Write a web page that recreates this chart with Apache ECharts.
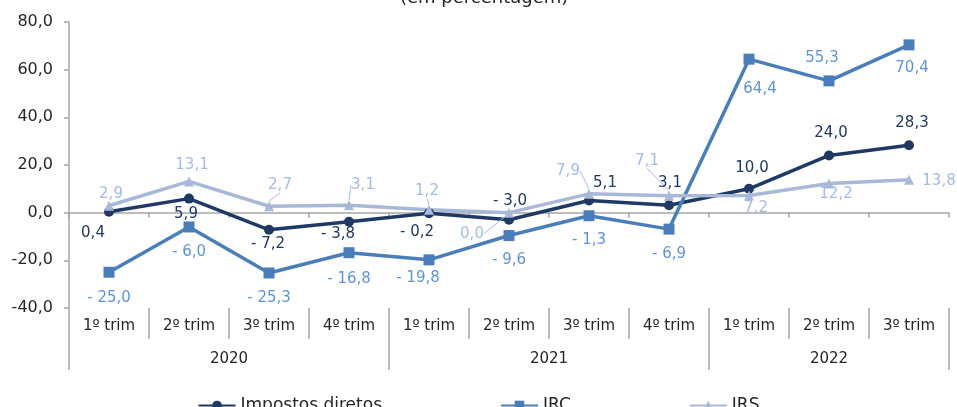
<!DOCTYPE html>
<html>
<head>
<meta charset="utf-8">
<script src="https://cdn.jsdelivr.net/npm/echarts@6/dist/echarts.min.js"></script>
<style>
  html, body { margin: 0; padding: 0; background: #ffffff; }
  #chart { width: 957px; height: 407px; }
</style>
</head>
<body>
<div id="chart"></div>
<script>
// Quarterly categories and the years they belong to
const quarters = ['1º trim', '2º trim', '3º trim', '4º trim',
                  '1º trim', '2º trim', '3º trim', '4º trim',
                  '1º trim', '2º trim', '3º trim'];
const years = ['2020', '2021', '2022'];
const quartersPerYear = [4, 4, 3];

// Year-on-year change (%)
const impostosDiretos = [0.4, 5.9, -7.2, -3.8, -0.2, -3.0, 5.1, 3.1, 10.0, 24.0, 28.3];
const irc = [-25.0, -6.0, -25.3, -16.8, -19.8, -9.6, -1.3, -6.9, 64.4, 55.3, 70.4];
const irs = [2.9, 13.1, 2.7, 3.1, 1.2, 0.0, 7.9, 7.1, 7.2, 12.2, 13.8];

// Value axis range
const yMin = -40, yMax = 80, yStep = 20;

// Label placement (pixel offsets from each point) and leader lines
const navyLabelOffsets = [[-16, 21], [-3, 16], [-1, 14], [-11, 12], [-12, 19], [1, -19], [16, -17], [1, -22], [3, -21], [2, -22], [3, -22]];
const ircLabelOffsets = [[0, 26], [0, 25], [0, 25], [0, 26], [-11, 18], [0, 25], [0, 24], [0, 25], [11, 30], [-7, -23], [3, 23]];
const irsLabelOffsets = [[2, -12], [3, -16], [11, -21], [14, -20], [-2, -19], [-37, 21], [-21, -23], [-22, -35], [7, 13], [7, 11], [30, 1]];
const irsLeaderLines = [2, 3, 4, 5, 6, 7];

const FONT = 'DejaVu Sans';
const AXIS_GRAY = '#A6A6A6';
const TEXT = '#262626';

// Year group boundaries and centres on a 0..n scale
const yearBounds = [0];
quartersPerYear.forEach(n => yearBounds.push(yearBounds[yearBounds.length - 1] + n));
const yearCentres = years.map((_, i) => (yearBounds[i] + yearBounds[i + 1]) / 2);

function pt(v) {
  const s = Math.abs(v).toFixed(1).replace('.', ',');
  return v < 0 ? '- ' + s : s;
}

function makeSeries(name, values, color, labelColor, symbol, size, offsets, leaders) {
  return {
    name: name,
    type: 'line',
    xAxisIndex: 0,
    data: values.map((v, i) => ({
      value: v,
      labelLine: { show: leaders.indexOf(i) >= 0 }
    })),
    symbol: symbol,
    symbolSize: size,
    showAllSymbol: true,
    lineStyle: { color: color, width: 3.5 },
    itemStyle: { color: color },
    label: {
      show: true,
      position: 'inside',
      color: labelColor,
      fontFamily: FONT,
      fontSize: 15,
      formatter: p => pt(p.value)
    },
    labelLine: { show: false, lineStyle: { color: labelColor, width: 1 } },
    labelLayout: p => ({ dx: offsets[p.dataIndex][0], dy: offsets[p.dataIndex][1] }),
    emphasis: { disabled: true },
    animation: false
  };
}

const chart = echarts.init(document.getElementById('chart'), null, { renderer: 'canvas' });

chart.setOption({
  backgroundColor: '#ffffff',
  animation: false,
  title: {
    text: '(em percentagem)',
    left: 395,
    top: -16,
    textStyle: { fontFamily: FONT, fontSize: 18, fontWeight: 'normal', color: TEXT }
  },
  legend: {
    left: 'center',
    top: 392,
    itemGap: 118,
    itemWidth: 37,
    itemHeight: 12,
    textStyle: { fontFamily: FONT, fontSize: 17, color: TEXT },
    data: ['Impostos diretos', 'IRC', 'IRS']
  },
  grid: { left: 69, right: 8, top: 22, bottom: 99, containLabel: false },
  xAxis: [
    {
      // zero line with category boundary ticks
      type: 'category',
      data: quarters,
      position: 'bottom',
      boundaryGap: true,
      axisLine: { show: true, onZero: true, lineStyle: { color: AXIS_GRAY, width: 1.5 } },
      axisTick: { show: true, length: 5, lineStyle: { color: AXIS_GRAY, width: 1.5 } },
      axisLabel: { show: false },
      splitLine: { show: false }
    },
    {
      // quarter labels below the plot
      type: 'category',
      data: quarters,
      position: 'bottom',
      boundaryGap: true,
      axisLine: { show: false, onZero: false },
      axisTick: { show: true, length: 31, lineStyle: { color: AXIS_GRAY, width: 1.5 } },
      axisLabel: { margin: 11, fontFamily: FONT, fontSize: 15, color: TEXT },
      splitLine: { show: false }
    },
    {
      // year groups
      type: 'value',
      min: yearBounds[0],
      max: yearBounds[yearBounds.length - 1],
      position: 'bottom',
      axisLine: { show: false, onZero: false },
      axisTick: { show: true, length: 62, customValues: yearBounds, lineStyle: { color: AXIS_GRAY, width: 1.5 } },
      axisLabel: {
        customValues: yearCentres,
        margin: 44,
        fontFamily: FONT,
        fontSize: 15,
        color: TEXT,
        formatter: v => {
          const i = yearCentres.indexOf(v);
          return i >= 0 ? years[i] : '';
        }
      },
      splitLine: { show: false }
    }
  ],
  yAxis: {
    type: 'value',
    min: yMin,
    max: yMax,
    interval: yStep,
    axisLine: { show: true, onZero: false, lineStyle: { color: AXIS_GRAY, width: 1.5 } },
    axisTick: { show: true, length: 5, lineStyle: { color: AXIS_GRAY, width: 1.5 } },
    splitLine: { show: false },
    axisLabel: {
      margin: 16,
      fontFamily: FONT,
      fontSize: 16,
      color: TEXT,
      formatter: v => v.toFixed(1).replace('.', ',')
    }
  },
  series: [
    makeSeries('Impostos diretos', impostosDiretos, '#1F3864', '#1F3864', 'circle', 10, navyLabelOffsets, []),
    makeSeries('IRC', irc, '#4A7EBB', '#5E93DB', 'rect', 11, ircLabelOffsets, []),
    makeSeries('IRS', irs, '#A7B8D8', '#A3BCE4', 'triangle', 10, irsLabelOffsets, irsLeaderLines)
  ]
});
</script>
</body>
</html>
